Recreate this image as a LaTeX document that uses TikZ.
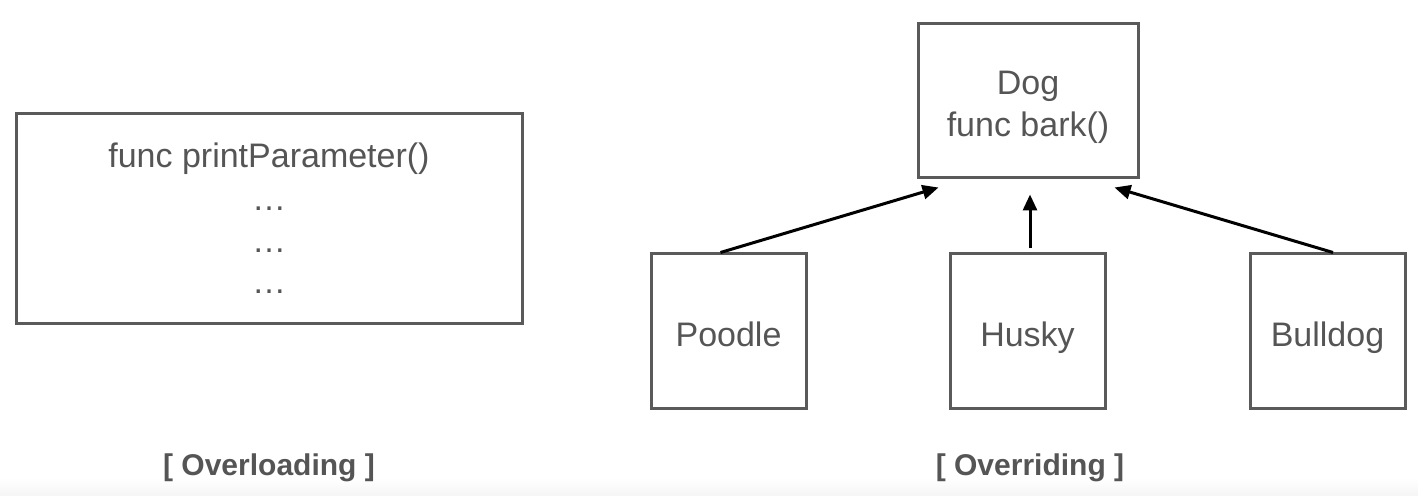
\documentclass[tikz,border=0pt]{standalone}
\usepackage{fontspec}
\setmainfont{Liberation Sans}
\usetikzlibrary{arrows.meta,calc}
\definecolor{ink}{HTML}{555555}
\definecolor{edge}{HTML}{5A5A5A}
\begin{document}
\begin{tikzpicture}[x=0.5pt,y=-0.5pt,
  box/.style={draw=edge,line width=1.5pt,inner sep=0pt,text=ink,font=\fontsize{17}{21}\selectfont},
  leaf/.style={box,minimum width=77.5pt,minimum height=77.5pt,text height=15pt,text depth=0pt},
  txt/.style={text=ink,inner sep=0pt,anchor=base,font=\fontsize{17}{21}\selectfont},
  caption/.style={text=ink,inner sep=0pt,anchor=base,font=\fontsize{15}{18}\selectfont\bfseries},
  arr/.style={draw=black,line width=1.5pt,-{Triangle[length=8pt,width=7pt]}}]
\useasboundingbox[fill=white] (0,0) rectangle (1418,496);
\shade[top color=white,bottom color=black!4] (0,478) rectangle (1418,496);
% Overloading
\node[box,minimum width=253pt,minimum height=105pt] (ovl) at (269,219) {};
\node[txt] (ovlA) at (269,168) {func printParameter()};
\node[txt] (ovlB) at (269,211) {…};
\node[txt] (ovlC) at (269,253) {…};
\node[txt] (ovlD) at (269,294) {…};
\node[caption] (ovlcap) at (269,475) {[ Overloading ]};
% Overriding
\node[box,minimum width=110pt,minimum height=77pt,align=center,text height=35.5pt,text depth=0pt] (dog) at (1028,101) {Dog\\func bark()};
\node[leaf] (poodle) at (728.5,331.5) {Poodle};
\node[leaf] (husky) at (1027.5,331.5) {Husky};
\node[leaf] (bull) at (1327.5,331.5) {Bulldog};
\draw[arr] ($(poodle.north)+(-8,0)$) -- ($(dog.south west)+(22,8)$);
\draw[arr] ($(husky.north)+(2.5,-4)$) -- ($(dog.south)+(2,15)$);
\draw[arr] ($(bull.north)+(5.5,0)$) -- ($(dog.south east)+(-25,8)$);
\node[caption] (ovrcap) at (1030,475) {[ Overriding ]};
\end{tikzpicture}
\end{document}
